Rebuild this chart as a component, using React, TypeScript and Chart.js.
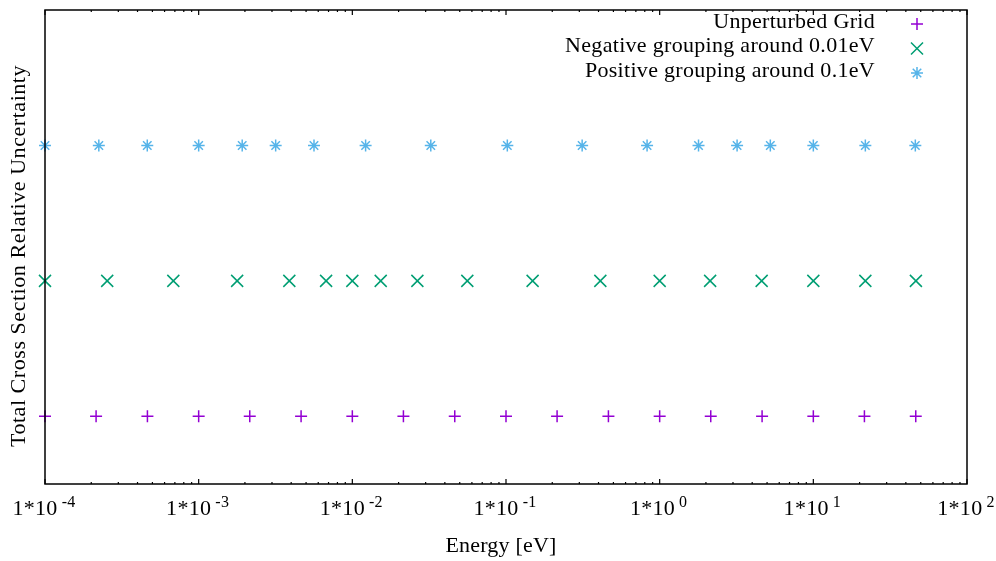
import React, { useEffect, useRef } from "react";
import { Chart, registerables } from "chart.js";

Chart.register(...registerables);

// Energies [eV]
const unperturbedX = [1e-4, 2.15e-4, 4.64e-4, 1e-3, 2.15e-3, 4.64e-3, 1e-2, 2.15e-2, 4.64e-2, 0.1, 0.215, 0.464, 1, 2.15, 4.64, 10, 21.5, 46.4];
const negativeX = [1e-4, 2.54e-4, 6.84e-4, 1.78e-3, 3.89e-3, 6.75e-3, 1.0e-2, 1.53e-2, 2.65e-2, 5.6e-2, 0.149, 0.411, 1.0, 2.13, 4.61, 10, 21.8, 46.5];
const positiveX = [1e-4, 2.24e-4, 4.63e-4, 1e-3, 1.92e-3, 3.17e-3, 5.63e-3, 1.22e-2, 3.24e-2, 0.102, 0.313, 0.828, 1.79, 3.19, 5.25, 10, 21.8, 46.1];

// vertical level of each series (arbitrary units, no y ticks shown)
const seriesLevels = [1, 2, 3];
const seriesNames = [
  "Unperturbed Grid",
  "Negative grouping around 0.01eV",
  "Positive grouping around 0.1eV",
];
const seriesColors = ["#9400d3", "#009e73", "#56b4e9"];
const seriesStyles = ["cross", "crossRot", "star"];
const seriesRadius = [6, 8.5, 6];

const tickExponents = [-4, -3, -2, -1, 0, 1, 2];
const xTitle = "Energy [eV]";
const yTitle = "Total Cross Section Relative Uncertainty";

const FONT = "'Liberation Serif', 'DejaVu Serif', serif";

function drawMarker(ctx: CanvasRenderingContext2D, style: string, x: number, y: number, r: number) {
  ctx.beginPath();
  const plus = (rr: number) => {
    ctx.moveTo(x - rr, y);
    ctx.lineTo(x + rr, y);
    ctx.moveTo(x, y - rr);
    ctx.lineTo(x, y + rr);
  };
  const diag = (rr: number) => {
    const d = rr * Math.SQRT1_2;
    ctx.moveTo(x - d, y - d);
    ctx.lineTo(x + d, y + d);
    ctx.moveTo(x - d, y + d);
    ctx.lineTo(x + d, y - d);
  };
  if (style === "cross") plus(r);
  else if (style === "crossRot") diag(r);
  else {
    plus(r);
    diag(r);
  }
  ctx.stroke();
}

function setSpacing(ctx: any, v: string) {
  if ("letterSpacing" in ctx) ctx.letterSpacing = v;
}

const framePlugin = {
  id: "gnuplotFrame",
  afterDraw(chart: any) {
    const { ctx, chartArea } = chart;
    const { left, right, top, bottom } = chartArea;
    const xs = chart.scales.x;
    ctx.save();
    ctx.strokeStyle = "#000";
    ctx.lineWidth = 1.5;
    ctx.strokeRect(left, top, right - left, bottom - top);

    // ticks (inside, mirrored on top)
    ctx.lineWidth = 1.2;
    ctx.beginPath();
    tickExponents.forEach((e, i) => {
      const px = xs.getPixelForValue(Math.pow(10, e));
      ctx.moveTo(px, bottom);
      ctx.lineTo(px, bottom - 5);
      ctx.moveTo(px, top);
      ctx.lineTo(px, top + 5);
      if (i < tickExponents.length - 1) {
        for (let m = 2; m <= 9; m++) {
          const mp = xs.getPixelForValue(m * Math.pow(10, e));
          ctx.moveTo(mp, bottom);
          ctx.lineTo(mp, bottom - 2);
          ctx.moveTo(mp, top);
          ctx.lineTo(mp, top + 2);
        }
      }
    });
    ctx.stroke();

    // tick labels 1*10^e
    ctx.fillStyle = "#000";
    ctx.textBaseline = "alphabetic";
    setSpacing(ctx, "0.3px");
    tickExponents.forEach((e) => {
      const px = xs.getPixelForValue(Math.pow(10, e));
      const base = "1*10";
      const sup = String(e);
      ctx.font = `22px ${FONT}`;
      const wb = ctx.measureText(base).width;
      ctx.font = `16px ${FONT}`;
      const ws = ctx.measureText(sup).width;
      const gap = 4;
      const total = wb + gap + ws;
      const x0 = px - total / 2 - 1;
      ctx.textAlign = "left";
      ctx.font = `22px ${FONT}`;
      ctx.fillText(base, x0, 515);
      ctx.font = `16px ${FONT}`;
      ctx.fillText(sup, x0 + wb + gap, 507);
    });

    // axis titles
    ctx.font = `22px ${FONT}`;
    ctx.textAlign = "center";
    ctx.textBaseline = "alphabetic";
    setSpacing(ctx, "0.2px");
    ctx.fillText(xTitle, 501, 552);
    setSpacing(ctx, "0.55px");
    ctx.save();
    ctx.translate(25, 256);
    ctx.rotate(-Math.PI / 2);
    ctx.fillText(yTitle, 0, 0);
    ctx.restore();

    // legend
    ctx.textAlign = "right";
    ctx.textBaseline = "middle";
    ctx.font = `22px ${FONT}`;
    setSpacing(ctx, "0.3px");
    seriesNames.forEach((name, i) => {
      const y = 22 + i * 24.5;
      ctx.fillStyle = "#000";
      ctx.fillText(name, 875, y);
      ctx.strokeStyle = seriesColors[i];
      ctx.lineWidth = 1.5;
      drawMarker(ctx, seriesStyles[i], 917, y + 2, seriesRadius[i]);
    });
    ctx.restore();
  },
};

export default function App() {
  const ref = useRef<HTMLCanvasElement | null>(null);
  useEffect(() => {
    if (!ref.current) return;
    const xsets = [unperturbedX, negativeX, positiveX];
    const chart = new Chart(ref.current, {
      type: "scatter",
      data: {
        datasets: xsets.map((xs, i) => ({
          label: seriesNames[i],
          data: xs.map((x) => ({ x, y: seriesLevels[i] })),
          pointStyle: seriesStyles[i] as any,
          pointRadius: seriesRadius[i],
          pointBorderWidth: 1.5,
          borderColor: seriesColors[i],
          backgroundColor: seriesColors[i],
          showLine: false,
          clip: false as any,
        })),
      },
      options: {
        animation: false,
        responsive: true,
        maintainAspectRatio: false,
        layout: { padding: { left: 45, right: 29, top: 9, bottom: 77 } },
        plugins: { legend: { display: false }, tooltip: { enabled: false } },
        scales: {
          x: { type: "logarithmic", min: 1e-4, max: 100, display: false },
          y: { type: "linear", min: 0.5, max: 4, display: false },
        },
      },
      plugins: [framePlugin],
    });
    return () => chart.destroy();
  }, []);
  return (
    <div style={{ position: "absolute", left: 0, top: 0, width: 996, height: 561, background: "#fff" }}>
      <canvas ref={ref} />
    </div>
  );
}
